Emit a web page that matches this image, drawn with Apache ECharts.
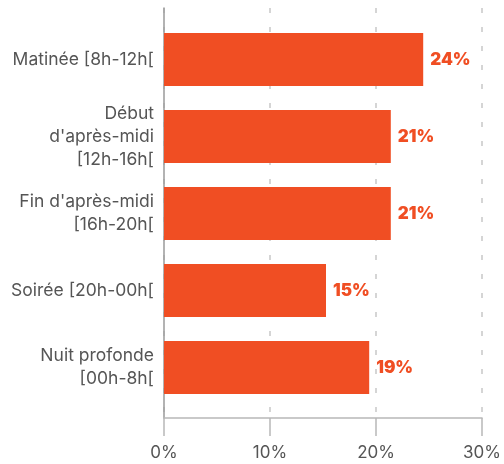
<!DOCTYPE html>
<html>
<head>
<meta charset="utf-8">
<script src="https://cdn.jsdelivr.net/npm/echarts@6/dist/echarts.min.js"></script>
<style>
  html, body { margin: 0; padding: 0; background: #fff; }
  #chart { width: 504px; height: 464px; }
</style>
</head>
<body>
<div id="chart"></div>
<script>
// Time slots, top to bottom
const categories = [
  "Matinée [8h-12h[",
  "Début\nd'après-midi\n[12h-16h[",
  "Fin d'après-midi\n[16h-20h[",
  "Soirée [20h-00h[",
  "Nuit profonde\n[00h-8h["
];
// Share per time slot (%)
const shares = [24, 21, 21, 15, 19];
// Axis range (%)
const axisMin = 0;
const axisMax = 30;
const axisStep = 10;

const orange = '#F04E23';
const font = 'Inter, Roboto, sans-serif';

const chart = echarts.init(document.getElementById('chart'), null, { renderer: 'canvas' });

chart.setOption({
  animation: false,
  grid: [
    // frame: axis lines, ticks and dashed guides
    { left: 164, right: 16, top: 8, bottom: 46 },
    // bars
    { left: 164, right: 16, top: 21, bottom: 58 }
  ],
  xAxis: [
    {
      gridIndex: 0, type: 'value', min: axisMin, max: axisMax, interval: axisStep,
      position: 'bottom',
      axisLine: { show: true, onZero: false, lineStyle: { color: '#b8b8b8', width: 1.5 } },
      axisTick: { show: true, inside: false, length: 18, lineStyle: { color: '#b8b8b8', width: 1.5 } },
      axisLabel: {
        formatter: v => v + '%', color: '#555', fontFamily: font, fontSize: 17, margin: 26
      },
      splitLine: { show: true, lineStyle: { color: '#c8c8c8', type: [5, 14], width: 1.5 } }
    },
    {
      gridIndex: 1, type: 'value', min: axisMin, max: axisMax, interval: axisStep,
      show: false
    }
  ],
  yAxis: [
    {
      gridIndex: 0, type: 'value', min: 0, max: 1,
      axisLine: { show: true, onZero: false, lineStyle: { color: '#9a9a9a', width: 1.5 } },
      axisTick: { show: false }, axisLabel: { show: false }, splitLine: { show: false }
    },
    {
      gridIndex: 1, type: 'category', data: categories, inverse: true,
      axisLine: { show: false }, axisTick: { show: false }, splitLine: { show: false },
      axisLabel: {
        color: '#555', fontFamily: font, fontSize: 17.5, lineHeight: 23, margin: 10, align: 'right'
      }
    }
  ],
  series: [
    {
      type: 'bar',
      xAxisIndex: 1, yAxisIndex: 1,
      data: shares,
      barWidth: 53,
      itemStyle: { color: orange },
      label: {
        show: true, position: 'right', distance: 7,
        formatter: p => p.value + '%',
        color: orange, fontFamily: font, fontWeight: 900, fontSize: 17
      }
    }
  ]
});
</script>
</body>
</html>
